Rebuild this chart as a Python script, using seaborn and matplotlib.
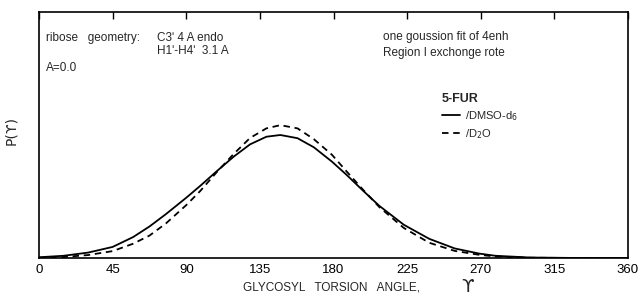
import numpy as np
import pandas as pd
import matplotlib
matplotlib.use('Agg')
import matplotlib.pyplot as plt
import seaborn as sns

# torsion angle (deg) and P(chi) (fraction of axis height)
angle = [0, 15, 30, 45, 57.5, 67.5, 77.5, 90, 98.5, 108.5, 119, 129, 139, 147.5,
         158, 168, 179, 188, 198, 208, 223, 238.5, 254, 269, 279, 300, 330, 360]
p_dmso = [0.003, 0.009, 0.022, 0.045, 0.085, 0.128, 0.178, 0.245, 0.293, 0.352, 0.412, 0.462, 0.493, 0.500,
          0.487, 0.450, 0.392, 0.338, 0.274, 0.212, 0.135, 0.078, 0.039, 0.018, 0.009, 0.002, 0.0, 0.0]
p_d2o = [0.001, 0.004, 0.012, 0.028, 0.058, 0.091, 0.140, 0.215, 0.272, 0.348, 0.423, 0.488, 0.527, 0.540,
         0.527, 0.483, 0.420, 0.352, 0.278, 0.207, 0.122, 0.062, 0.029, 0.013, 0.006, 0.001, 0.0, 0.0]
xticks = [0, 45, 90, 135, 180, 225, 270, 315, 360]

sns.set_style('white')
plt.rcParams['font.family'] = ['Liberation Sans', 'DejaVu Sans']

df = pd.DataFrame({'angle': angle, 'DMSO': p_dmso, 'D2O': p_d2o})

fig = plt.figure(figsize=(6.41, 2.95), dpi=100)
ax = fig.add_axes([39/641, 37/295, 589/641, 246/295])

sns.lineplot(data=df, x='angle', y='DMSO', color='black', lw=1.3,
             label=r'/DMSO-d$_6$', ax=ax)
sns.lineplot(data=df, x='angle', y='D2O', color='black', lw=1.3,
             linestyle=(0, (3.6, 2.6)), label=r'/D$_2$O', ax=ax)

ax.set_xlim(0, 360)
ax.set_ylim(0, 1)
ax.set_xticks(xticks)
ax.set_yticks([])
ax.tick_params(axis='x', direction='in', length=5, width=1, top=True,
               labelsize=9.5, pad=4, colors='black')
for s in ax.spines.values():
    s.set_color('black')
    s.set_linewidth(1.2)

ax.set_xlabel('')
ax.set_ylabel('P(\u03d2)', fontsize=10, family=['DejaVu Sans'])
ax.yaxis.set_label_coords(-0.036, 0.52)
fig.text(243/641, 1 - 287/295, 'GLYCOSYL   TORSION   ANGLE,', fontsize=8.5, va='center', ha='left')
fig.text(468/641, 1 - 287/295, '\u03d2', fontsize=13, va='center', ha='center', family=['DejaVu Sans'])

# annotations
ax.text(0.012, 0.894, 'ribose   geometry:', fontsize=8.5, va='center', transform=ax.transAxes)
ax.text(0.200, 0.894, 'C3\u02b9 4 A endo', fontsize=8.5, va='center', transform=ax.transAxes)
ax.text(0.200, 0.841, 'H1\u02b9-H4\u02b9  3.1 A', fontsize=8.5, va='center', transform=ax.transAxes)
ax.text(0.012, 0.772, 'A=0.0', fontsize=8.5, va='center', transform=ax.transAxes)
ax.text(0.584, 0.898, 'one goussion fit of 4enh', fontsize=8.5, va='center', transform=ax.transAxes)
ax.text(0.584, 0.833, 'Region I exchonge rote', fontsize=8.5, va='center', transform=ax.transAxes)

leg = ax.legend(title='5-FUR', loc='upper left', bbox_to_anchor=(0.684, 0.672),
                frameon=False, fontsize=8, handlelength=1.6, handletextpad=0.45,
                labelspacing=0.4, borderpad=0, borderaxespad=0,
                title_fontproperties={'weight': 'bold', 'size': 9}, alignment='left')

fig.savefig('out.png', dpi=100)
